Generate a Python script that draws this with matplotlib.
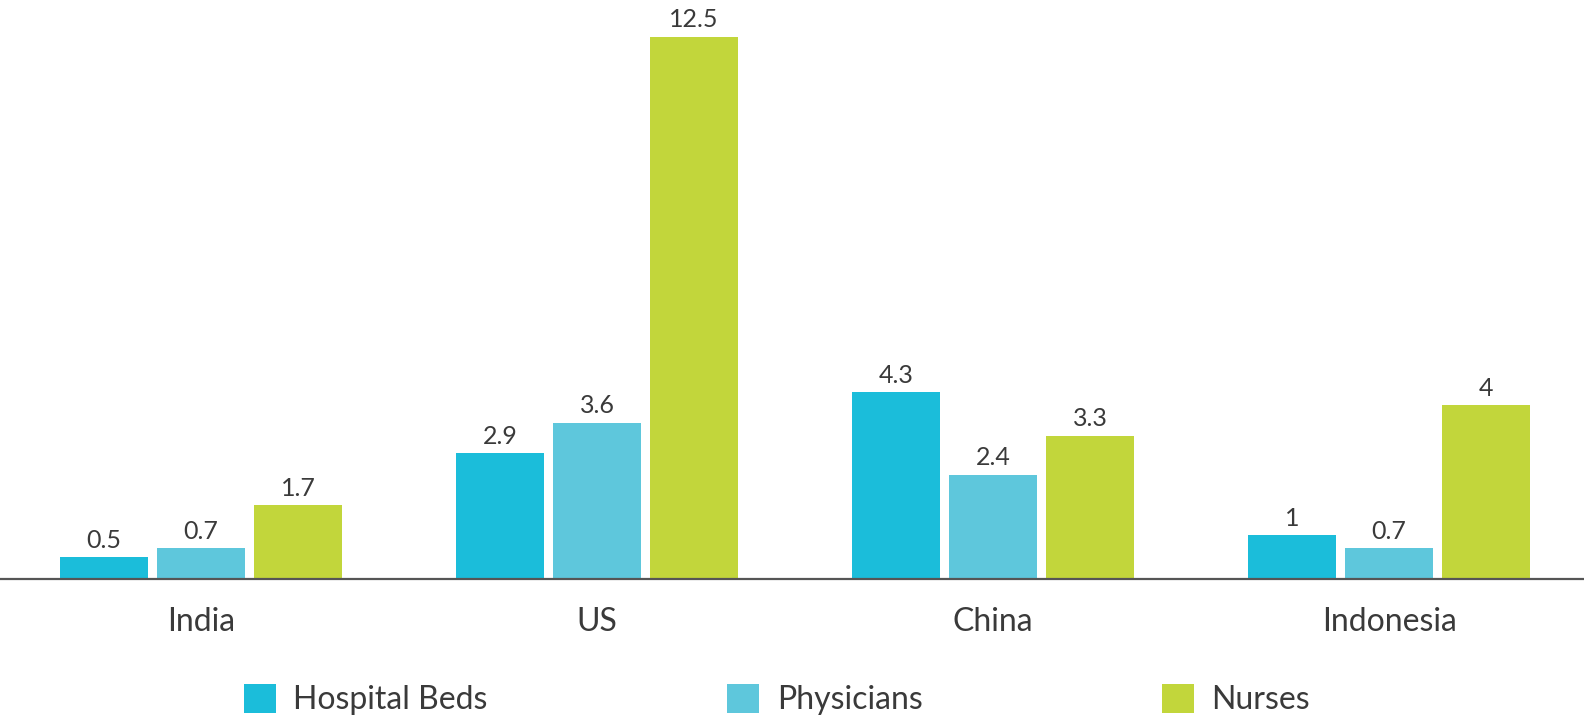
import matplotlib.pyplot as plt
import numpy as np

countries = ["India", "US", "China", "Indonesia"]
hospital_beds = [0.5, 2.9, 4.3, 1]
physicians = [0.7, 3.6, 2.4, 0.7]
nurses = [1.7, 12.5, 3.3, 4]

series = [
    ("Hospital Beds", hospital_beds, "#1bbdda"),
    ("Physicians", physicians, "#5ec7dc"),
    ("Nurses", nurses, "#c2d63b"),
]

plt.rcParams["font.family"] = ["Lato", "DejaVu Sans"]
text_color = "#3a3a3a"

fig = plt.figure(figsize=(15.84, 7.19), dpi=100)
ax = fig.add_axes([0, 0.195, 1, 0.805])

x = np.arange(len(countries))
width = 0.222
step = 0.245

# three bars per country, value printed above each bar
for i, (name, vals, color) in enumerate(series):
    bars = ax.bar(x + (i - 1) * step, vals, width, color=color, label=name)
    ax.bar_label(bars, labels=[f"{v:g}" for v in vals], padding=4,
                 fontsize=18, color=text_color)

ax.set_xlim(-0.508, 3.492)
ax.set_ylim(0, 13.35)

for side in ["top", "right", "left"]:
    ax.spines[side].set_visible(False)
ax.spines["bottom"].set_color("#555555")
ax.spines["bottom"].set_linewidth(1.6)
ax.set_yticks([])
ax.set_xticks(x)
ax.set_xticklabels(countries, fontsize=23, color=text_color)
ax.tick_params(axis="x", length=0, pad=20)

fig.legend(loc="center", bbox_to_anchor=(0.4905, 0.027), ncol=3, frameon=False,
           fontsize=23, handlelength=1.0, handleheight=1.0,
           handletextpad=0.55, columnspacing=7.5, labelcolor=text_color)

fig.savefig("out.png", dpi=100)
